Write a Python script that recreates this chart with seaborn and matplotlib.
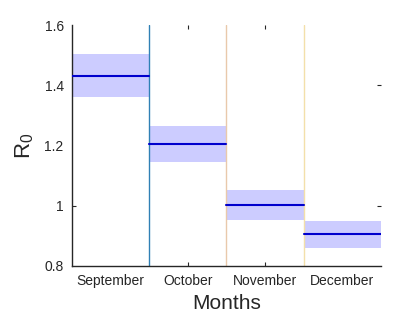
import matplotlib
matplotlib.use("Agg")
import matplotlib.pyplot as plt
import seaborn as sns
import pandas as pd
import numpy as np

months = ["September", "October", "November", "December"]
r0_mean = [1.43, 1.205, 1.003, 0.906]
r0_low = [1.362, 1.145, 0.952, 0.860]
r0_high = [1.504, 1.264, 1.052, 0.949]
y_ticks = [0.8, 1.0, 1.2, 1.4, 1.6]
y_tick_labels = ["0.8", "1", "1.2", "1.4", "1.6"]
boundary_colors = ["#2f80b5", "#e9c9ab", "#f3e0aa"]

sns.set_theme(style="white")
plt.rcParams['font.family'] = ['Liberation Sans', 'DejaVu Sans']
plt.rcParams['mathtext.fontset'] = 'custom'
plt.rcParams['mathtext.rm'] = 'Liberation Sans'
plt.rcParams['mathtext.it'] = 'Liberation Sans'

txt = "#262626"
fig = plt.figure(figsize=(4.2, 3.15), dpi=100)
ax = fig.add_axes([0.1714, 0.1556, 0.7357, 0.765])

rows = []
for i, (m, v) in enumerate(zip(months, r0_mean)):
    rows.append({"month": m, "x": i, "r0": v})
    rows.append({"month": m, "x": i + 1, "r0": v})
df = pd.DataFrame(rows)

for i in range(len(months)):
    ax.fill_between([i, i + 1], r0_low[i], r0_high[i], color="#ccccff", lw=0, zorder=1)

sns.lineplot(data=df, x="x", y="r0", units="month", estimator=None,
             color="#0000cd", lw=1.5, ax=ax, zorder=3, legend=False)

for i, c in enumerate(boundary_colors):
    ax.axvline(i + 1, color=c, lw=1.0, zorder=2)

ax.set_xlim(0, 4)
ax.set_ylim(0.8, 1.6)
ax.set_xticks(np.arange(len(months)) + 0.5)
ax.set_xticklabels(months)
ax.set_yticks(y_ticks)
ax.set_yticklabels(y_tick_labels)
ax.tick_params(which="major", direction="in", length=3, width=0.8, color=txt,
               labelsize=10, labelcolor=txt, pad=6,
               top=True, right=True, bottom=True, left=True)

x_tick_show = [False, True, True, False]
y_tick_show = [False, True, False, True, False]
for t, show in zip(ax.xaxis.get_major_ticks(), x_tick_show):
    t.tick1line.set_visible(show)
    t.tick2line.set_visible(show)
for t, show in zip(ax.yaxis.get_major_ticks(), y_tick_show):
    t.tick1line.set_visible(show)
    t.tick2line.set_visible(show)

for s in ["top", "right"]:
    ax.spines[s].set_visible(False)
for s in ["left", "bottom"]:
    ax.spines[s].set_color(txt)
    ax.spines[s].set_linewidth(1.0)

ax.set_xlabel("Months", fontsize=15, color=txt, labelpad=4)
ax.set_ylabel(r"$\mathregular{R_0}$", fontsize=16, color=txt, labelpad=6)

fig.savefig("out.png", dpi=100)
